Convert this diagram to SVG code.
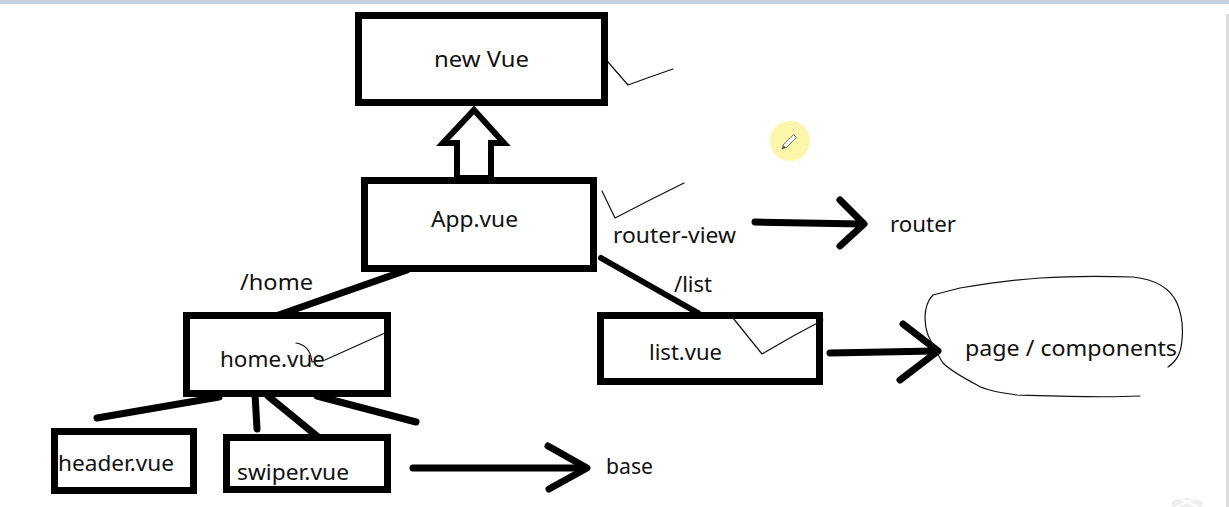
<svg xmlns="http://www.w3.org/2000/svg" width="1229" height="507" viewBox="0 0 1229 507">
  <style>
    .box { fill: #ffffff; stroke: #000000; stroke-width: 7; }
    .lbl { font-family: "Noto Sans", "Liberation Sans", sans-serif; font-size: 21px; fill: #111111; }
    .thick { stroke: #000000; stroke-width: 7; stroke-linecap: round; stroke-linejoin: round; fill: none; }
    .thin { stroke: #111111; stroke-width: 1.2; fill: none; stroke-linecap: round; stroke-linejoin: round; }
  </style>
  <rect x="0" y="0" width="1229" height="507" fill="#ffffff"/>
  <rect x="0" y="0" width="1229" height="4" fill="#c5cde0"/>
  <rect x="1226" y="14" width="3" height="493" fill="#dcdcdc"/>

  <g id="connectors">
    <polygon points="474,110 504,143 491,143 491,178 457,178 457,143 443,143" fill="#ffffff" stroke="#000000" stroke-width="6" stroke-linejoin="miter"/>
    <line class="thick" x1="407" y1="270" x2="273" y2="317"/>
    <line class="thick" x1="601" y1="258" x2="698" y2="313" style="stroke-width:6"/>
    <line class="thick" x1="219" y1="397" x2="97" y2="418"/>
    <line class="thick" x1="255" y1="394" x2="257" y2="429"/>
    <line class="thick" x1="268" y1="396" x2="323" y2="441"/>
    <line class="thick" x1="317" y1="396" x2="416" y2="422"/>
    <line class="thick" x1="755" y1="222" x2="862" y2="224"/>
    <polyline class="thick" points="840,200 864,224 840,246"/>
    <line class="thick" x1="830" y1="353" x2="935" y2="351"/>
    <polyline class="thick" points="903,324 938,351 900,380"/>
    <line class="thick" x1="413" y1="468" x2="585" y2="468"/>
    <polyline class="thick" points="548,446 587,468 549,489"/>
  </g>

  <g id="node-newvue">
    <rect class="box" x="358.5" y="15.5" width="246" height="87"/>
    <text class="lbl" x="434" y="67" textLength="95" lengthAdjust="spacingAndGlyphs">new Vue</text>
  </g>
  <g id="node-app">
    <rect class="box" x="364.5" y="180.5" width="229" height="88"/>
    <text class="lbl" x="431" y="227" textLength="87" lengthAdjust="spacingAndGlyphs">App.vue</text>
  </g>
  <g id="node-home">
    <rect class="box" x="186.5" y="315.5" width="201" height="78"/>
    <text class="lbl" x="220" y="367" textLength="105" lengthAdjust="spacingAndGlyphs">home.vue</text>
  </g>
  <g id="node-list">
    <rect class="box" x="600.5" y="315.5" width="219" height="66"/>
    <text class="lbl" x="649" y="360" textLength="73" lengthAdjust="spacingAndGlyphs">list.vue</text>
  </g>
  <g id="node-header">
    <rect class="box" x="54.5" y="431.5" width="139" height="59"/>
    <text class="lbl" x="58" y="471" textLength="116" lengthAdjust="spacingAndGlyphs">header.vue</text>
  </g>
  <g id="node-swiper">
    <rect class="box" x="226.5" y="437.5" width="161" height="52"/>
    <text class="lbl" x="237" y="480" textLength="112" lengthAdjust="spacingAndGlyphs">swiper.vue</text>
  </g>
  <g id="node-router">
    <text class="lbl" x="890" y="232" textLength="66" lengthAdjust="spacingAndGlyphs">router</text>
  </g>
  <g id="node-page">
    <path class="thin" d="M933,295 L960,288 C985,284 1010,280 1040,278 C1070,276 1105,276 1133,277 C1160,280 1172,292 1177,303 C1182,315 1183,330 1182,340 C1181,352 1178,360 1168,367 M1140,396 C1100,398 1050,396 1017,395 C997,392 985,390 977,385 C960,376 950,370 943,363 C938,356 937,350 937,350 C930,342 925,330 925,318 C925,308 928,300 933,295"/>
    <text class="lbl" x="965" y="356" textLength="212" lengthAdjust="spacingAndGlyphs">page / components</text>
  </g>
  <g id="node-base">
    <text class="lbl" x="606" y="474" textLength="47" lengthAdjust="spacingAndGlyphs">base</text>
  </g>

  <g id="labels">
    <text class="lbl" x="240" y="290" textLength="73" lengthAdjust="spacingAndGlyphs">/home</text>
    <text class="lbl" x="674" y="292" textLength="38" lengthAdjust="spacingAndGlyphs">/list</text>
    <text class="lbl" x="613" y="243" textLength="123" lengthAdjust="spacingAndGlyphs">router-view</text>
  </g>

  <g id="ticks">
    <path class="thin" d="M608,62 L628,85 L650,77 L673,69"/>
    <path class="thin" d="M602,191 L615,218 L650,200 L684,183"/>
    <path class="thin" d="M733,318 L762,354 L795,335 L823,320"/>
    <path class="thin" d="M296,343 Q310,345 312,362 L325,360 L385,333"/>
  </g>

  <g id="cursor">
    <circle cx="790" cy="141" r="20" fill="#fbf5a0" opacity="0.9"/>
    <g transform="rotate(-45 790 141)">
      <rect x="782" y="139" width="15" height="4" fill="#ffffff" stroke="#555555" stroke-width="0.8"/>
      <polygon points="782,139 778,141 782,143" fill="#555555"/>
    </g>
  </g>
  <g id="corner-mark" opacity="0.6">
    <ellipse cx="1187" cy="504" rx="16" ry="6" fill="#e4e4e4"/>
    <path d="M1176,497 L1198,507 M1198,497 L1176,507" stroke="#ffffff" stroke-width="2"/>
  </g>
</svg>
